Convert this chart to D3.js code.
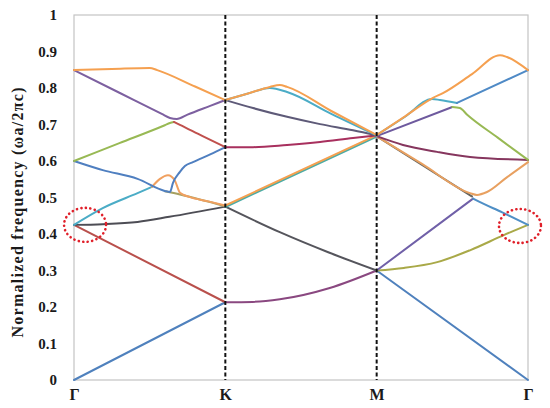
<!DOCTYPE html>
<html>
<head>
<meta charset="utf-8">
<script src="https://cdn.jsdelivr.net/npm/d3@7/dist/d3.min.js"></script>
<style>
  html, body { margin: 0; padding: 0; background: #ffffff; }
  svg { display: block; }
  text { font-family: "Liberation Serif", "Times New Roman", serif; font-weight: bold; fill: #1a1a1a; }
</style>
</head>
<body>
<svg id="chart" width="550" height="408"></svg>
<script>
// ---- axis data ----
const kTicks = [0, 1, 2, 3];
const kLabels = ["Γ", "K", "M", "Γ"];
const yTicks = [0, 0.1, 0.2, 0.3, 0.4, 0.5, 0.6, 0.7, 0.8, 0.9, 1];
const yTickLabels = ["0", "0.1", "0.2", "0.3", "0.4", "0.5", "0.6", "0.7", "0.8", "0.9", "1"];
const yTitle = "Normalized  frequency (ωa/2πc)";

// ---- band segments: [k, normalized frequency] ----
// Γ → K
const gkBlueLow     = [[0, 0], [1, 0.213]];
const gkRed         = [[0, 0.425], [1, 0.213]];
const gkGray        = [[0, 0.425], [0.19, 0.427], [0.42, 0.433], [0.63, 0.447], [1, 0.475]];
const gkCyan        = [[0, 0.425], [0.19, 0.471], [0.42, 0.512], [0.515, 0.529]];
const gkOlive       = [[0.60, 0.517], [0.70, 0.508], [1, 0.476]];
const gkOrangeBump  = [[0.515, 0.529], [0.568, 0.551], [0.621, 0.561], [0.667, 0.546], [0.70, 0.513], [0.767, 0.501], [0.88, 0.490], [1, 0.478]];
const gkBlueMid     = [[0, 0.600], [0.19, 0.575], [0.42, 0.551], [0.60, 0.518], [0.634, 0.515], [0.654, 0.540], [0.700, 0.570], [0.733, 0.586], [0.786, 0.597], [0.9, 0.618], [1, 0.638]];
const gkGreen       = [[0, 0.600], [0.3, 0.649], [0.6, 0.698], [0.634, 0.704], [0.66, 0.707]];
const gkRedUpper    = [[0.66, 0.707], [0.70, 0.699], [0.85, 0.668], [1, 0.638]];
const gkPurple      = [[0, 0.849], [0.3, 0.787], [0.58, 0.729], [0.634, 0.718], [0.68, 0.715], [0.75, 0.727], [0.9, 0.751], [1, 0.767]];
const gkOrangeTop   = [[0, 0.849], [0.25, 0.852], [0.50, 0.855], [0.55, 0.849], [0.8, 0.804], [1, 0.767]];
// K → M
const kmLow         = [[1, 0.213], [1.18, 0.214], [1.36, 0.221], [1.69, 0.252], [2, 0.300]];
const kmGrayDown    = [[1, 0.475], [1.36, 0.405], [1.68, 0.350], [2, 0.300]];
const kmTealUp      = [[1, 0.474], [2, 0.667]];
const kmOrangeUp    = [[1, 0.478], [2, 0.671]];
const kmMagenta     = [[1, 0.638], [1.183, 0.638], [1.408, 0.644], [1.626, 0.652], [1.844, 0.663], [2, 0.670]];
const kmDarkPurple  = [[1, 0.767], [1.183, 0.745], [1.408, 0.721], [1.626, 0.701], [1.844, 0.684], [2, 0.670]];
const kmCyan        = [[1, 0.767], [1.15, 0.785], [1.295, 0.800], [1.408, 0.789], [1.7, 0.729], [2, 0.670]];
const kmOrange      = [[1, 0.767], [1.15, 0.785], [1.295, 0.803], [1.36, 0.808], [1.408, 0.803], [1.7, 0.737], [2, 0.671]];
// M → Γ
const mgBlueLow     = [[2, 0.300], [3, 0]];
const mgOlive       = [[2, 0.300], [2.18, 0.307], [2.40, 0.323], [2.62, 0.356], [2.84, 0.397], [3, 0.425]];
const mgPurpleUp    = [[2, 0.300], [2.637, 0.497]];
const mgBlueDown    = [[2.637, 0.497], [2.66, 0.492], [2.83, 0.459], [3, 0.425]];
const mgGrayDown    = [[2, 0.668], [2.3, 0.589], [2.63, 0.503]];
const mgOrangeDip   = [[2, 0.668], [2.3, 0.592], [2.617, 0.512], [2.663, 0.507], [2.729, 0.515], [2.86, 0.555], [3, 0.597]];
const mgMaroon      = [[2, 0.668], [2.174, 0.644], [2.399, 0.625], [2.617, 0.611], [3, 0.603]];
const mgPurple      = [[2, 0.668], [2.50, 0.748]];
const mgGreen       = [[2.50, 0.748], [2.55, 0.745], [2.60, 0.726], [2.8, 0.664], [3, 0.603]];
const mgCyan        = [[2, 0.671], [2.19, 0.722], [2.366, 0.770], [2.419, 0.767], [2.531, 0.759]];
const mgBlueUp      = [[2.531, 0.759], [3, 0.849]];
const mgOrangeTop   = [[2, 0.671], [2.19, 0.723], [2.372, 0.773], [2.438, 0.786], [2.63, 0.838], [2.815, 0.890], [2.861, 0.885], [3, 0.849]];

// highlighted degeneracies (k, frequency)
const circleCenters = [[0.073, 0.425], [2.947, 0.422]];

// ---- drawing order and colours ----
const segments = [
  gkBlueLow, gkRed, gkGray, gkCyan, gkOlive, gkOrangeBump, gkBlueMid, gkGreen, gkRedUpper, gkPurple, gkOrangeTop,
  kmLow, kmGrayDown, kmTealUp, kmOrangeUp, kmMagenta, kmDarkPurple, kmCyan, kmOrange,
  mgBlueLow, mgOlive, mgPurpleUp, mgBlueDown, mgGrayDown, mgOrangeDip, mgMaroon, mgPurple, mgGreen, mgCyan, mgBlueUp, mgOrangeTop
];
const segColors = [
  "#4F81BD", "#B9504C", "#4d4d55", "#4BACC6", "#A6A060", "#F0A060", "#4F7FC0", "#98B954", "#C0504D", "#7D60A0", "#F5A050",
  "#8A4880", "#55555c", "#4BACA6", "#F5A050", "#A8305E", "#5E5A78", "#4BACC6", "#F5A050",
  "#4F81BD", "#A9A948", "#7060A8", "#4F8FC6", "#666660", "#E8A060", "#86365E", "#6E5A9E", "#98B954", "#4BACC6", "#4F8AC6", "#F5A050"
];

const svg = d3.select("#chart");
const x = d3.scaleLinear().domain([0, 3]).range([74, 528]);
const y = d3.scaleLinear().domain([0, 1]).range([380, 15]);

// plot frame
svg.append("rect")
  .attr("x", x(0)).attr("y", y(1))
  .attr("width", x(3) - x(0)).attr("height", y(0) - y(1))
  .attr("fill", "none").attr("stroke", "#c4c4c4").attr("stroke-width", 1.2);

// axes
const yAxis = svg.append("g").attr("transform", `translate(${x(0)},0)`)
  .call(d3.axisLeft(y).tickValues(yTicks).tickSize(0).tickPadding(17)
    .tickFormat((d, i) => yTickLabels[i]));
yAxis.select(".domain").remove();
yAxis.selectAll("text").attr("font-size", 15).attr("font-family", "Liberation Serif").attr("font-weight", "bold").attr("fill", "#1a1a1a");

const xAxis = svg.append("g").attr("transform", `translate(0,${y(0)})`)
  .call(d3.axisBottom(x).tickValues(kTicks).tickSize(0).tickPadding(9)
    .tickFormat((d, i) => kLabels[i]));
xAxis.select(".domain").remove();
xAxis.selectAll("text").attr("font-size", 16).attr("font-family", "Liberation Serif").attr("font-weight", "bold").attr("fill", "#1a1a1a");

// y title
svg.append("text")
  .attr("transform", `translate(23,${(y(0) + y(1)) / 2 + 15}) rotate(-90)`)
  .attr("text-anchor", "middle")
  .attr("font-size", 16)
  .attr("textLength", 250)
  .attr("lengthAdjust", "spacing")
  .text(yTitle);

// bands
const line = d3.line().x(d => x(d[0])).y(d => y(d[1])).curve(d3.curveMonotoneX);
svg.append("g").selectAll("path").data(segments).join("path")
  .attr("d", line)
  .attr("fill", "none")
  .attr("stroke", (d, i) => segColors[i])
  .attr("stroke-width", 2)
  .attr("stroke-linejoin", "round")
  .attr("stroke-linecap", "round");

// dashed symmetry lines
svg.append("g").selectAll("line").data(kTicks.slice(1, 3)).join("line")
  .attr("x1", d => x(d)).attr("x2", d => x(d))
  .attr("y1", y(1)).attr("y2", y(0))
  .attr("stroke", "#111").attr("stroke-width", 2)
  .attr("stroke-dasharray", "4,2.5");

// red dotted circles
svg.append("g").selectAll("ellipse").data(circleCenters).join("ellipse")
  .attr("cx", d => x(d[0])).attr("cy", d => y(d[1]))
  .attr("rx", 21).attr("ry", 17)
  .attr("fill", "none").attr("stroke", "#E0202A").attr("stroke-width", 2.6)
  .attr("stroke-dasharray", "0.1,4.4").attr("stroke-linecap", "round");
</script>
</body>
</html>
